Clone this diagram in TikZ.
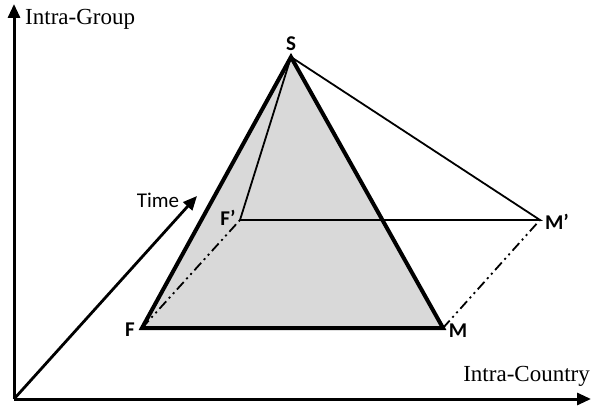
\documentclass[tikz,border=0pt]{standalone}
\usepackage{fontspec}
\setmainfont{Liberation Serif}
\newfontfamily\calib{Carlito}
\usetikzlibrary{arrows.meta}
\begin{document}
\begin{tikzpicture}[x=1pt,y=-1pt,
  axis/.style={line width=3pt,-{Triangle[length=14pt,width=12pt]}},
  thinline/.style={line width=1.8pt},
  thickline/.style={line width=4pt,line join=miter},
  dashdot/.style={line width=1.8pt,dash pattern=on 10pt off 4pt on 2pt off 4pt on 2pt off 4pt},
  ptlabel/.style={font=\calib\bfseries\fontsize{21}{24}\selectfont,inner sep=0pt},
  axlabel/.style={font=\fontsize{23}{26}\selectfont,inner sep=0pt}]
\useasboundingbox (0,0) rectangle (592,406);
\coordinate (O) at (14,399);
\coordinate (Ytop) at (14,4);
\coordinate (Xend) at (591,399);
\coordinate (Ttip) at (197,196);
\coordinate (S) at (291,57);
\coordinate (F) at (142,328);
\coordinate (M) at (443,328);
\coordinate (Fp) at (240,220);
\coordinate (Mp) at (540,220);
% grey face
\fill[gray!30] (S) -- (F) -- (M) -- cycle;
% back thin lines
\draw[thinline] (S) -- (Fp) -- (Mp) -- (S);
\draw[dashdot] (F) -- (Fp);
\draw[dashdot] (M) -- (Mp);
% front triangle
\draw[thickline] (S) -- (F) -- (M) -- cycle;
% axes
\draw[axis] (O) -- (Ytop);
\draw[axis] (O) -- (Xend);
\draw[axis,line width=2.8pt] (O) -- (Ttip);
% labels
\node[axlabel,anchor=west] (yl) at (25,19) {Intra-Group};
\node[axlabel,anchor=east] (xl) at (590,376) {Intra-Country};
\node[font=\calib\fontsize{21}{24}\selectfont,inner sep=0pt] (tl) at (158,200) {Time};
\node[ptlabel] (Sl) at (291,44) {S};
\node[ptlabel] (Fl) at (130,330) {F};
\node[ptlabel] (Ml) at (458,331) {M};
\node[ptlabel] (Fpl) at (228,218) {F’};
\node[ptlabel] (Mpl) at (557,222) {M’};
\end{tikzpicture}
\end{document}
